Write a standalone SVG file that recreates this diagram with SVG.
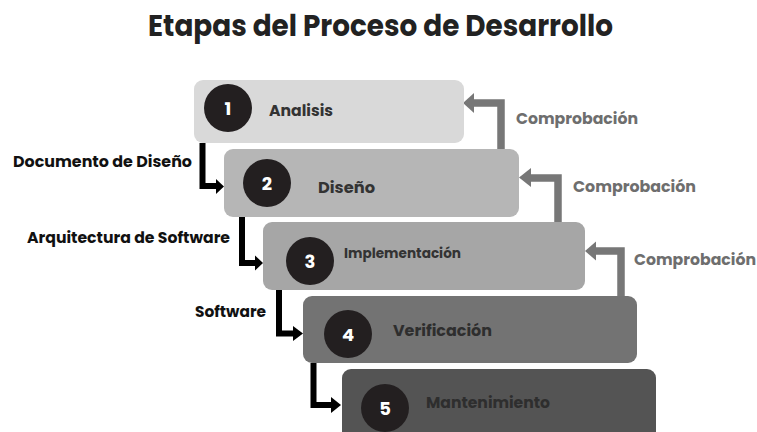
<svg xmlns="http://www.w3.org/2000/svg" width="757" height="432" viewBox="0 0 757 432">
<style>
text{font-family:"Poppins","Inter","Noto Sans","Liberation Sans",sans-serif;font-weight:700}
.title{font-size:29px;fill:#222}
.num{font-size:18px;fill:#fff;text-anchor:middle}
.lbl{font-size:15px;fill:#333}
.side{font-size:15px;fill:#111}
.chk{font-size:15.5px;fill:#6e6e6e}
.circ{fill:#231f20}
.blk{fill:none;stroke:#000;stroke-width:6}
.blkh{fill:#000}
.gry{fill:none;stroke:#777;stroke-width:7.5}
.gryh{fill:#777}
</style>
<rect width="757" height="432" fill="#fff"/>
<text class="title" x="148" y="36" textLength="465" lengthAdjust="spacingAndGlyphs">Etapas del Proceso de Desarrollo</text>
<g id="connectors">
<path class="blk" d="M202.5,143 V186 H217"/><polygon class="blkh" points="216,179 224,186.5 216,194"/>
<path class="blk" d="M242,217 V263 H256"/><polygon class="blkh" points="255,255.5 263,263 255,270.5"/>
<path class="blk" d="M279,290 V333.5 H294"/><polygon class="blkh" points="293,326 303,333.5 293,341"/>
<path class="blk" d="M313.5,363 V405 H332"/><polygon class="blkh" points="331,397 341,405 331,413"/>
<path class="gry" d="M501,149 V103 H474"/><polygon class="gryh" points="474,93 463,103 474,113"/>
<path class="gry" d="M558,222 V178 H531"/><polygon class="gryh" points="531,168 519,177.5 531,187"/>
<path class="gry" d="M621,296 V251 H596"/><polygon class="gryh" points="596,241.5 585,251 596,260.5"/>
<text class="side" x="13" y="167" textLength="179" lengthAdjust="spacingAndGlyphs">Documento de Diseño</text>
<text class="side" x="27" y="243" textLength="203" lengthAdjust="spacingAndGlyphs">Arquitectura de Software</text>
<text class="side" x="195" y="317" textLength="71" lengthAdjust="spacingAndGlyphs">Software</text>
<text class="chk" x="516" y="124" textLength="122" lengthAdjust="spacingAndGlyphs">Comprobación</text>
<text class="chk" x="573" y="192" textLength="123" lengthAdjust="spacingAndGlyphs">Comprobación</text>
<text class="chk" x="634" y="265" textLength="122" lengthAdjust="spacingAndGlyphs">Comprobación</text>
</g>
<g id="node1">
<rect x="194" y="80" width="270" height="63" rx="9" fill="#d9d9d9"/>
<circle class="circ" cx="228" cy="108" r="24"/>
<text class="num" x="228" y="114.5">1</text>
<text class="lbl" x="269" y="116" textLength="64" lengthAdjust="spacingAndGlyphs">Analisis</text>
</g>
<g id="node2">
<rect x="224" y="149" width="295" height="68" rx="9" fill="#b6b6b6"/>
<circle class="circ" cx="267" cy="183" r="24"/>
<text class="num" x="267" y="189.5">2</text>
<text class="lbl" x="318" y="193" textLength="57" lengthAdjust="spacingAndGlyphs">Diseño</text>
</g>
<g id="node3">
<rect x="263" y="222" width="322" height="68" rx="9" fill="#a6a6a6"/>
<circle class="circ" cx="310" cy="261" r="24"/>
<text class="num" x="310" y="267.5">3</text>
<text class="lbl" x="344" y="258" style="font-size:14px" textLength="117" lengthAdjust="spacingAndGlyphs">Implementación</text>
</g>
<g id="node4">
<rect x="303" y="296" width="334" height="67" rx="9" fill="#737373"/>
<circle class="circ" cx="348" cy="334" r="24"/>
<text class="num" x="348" y="340.5">4</text>
<text class="lbl" x="393" y="336" style="font-size:16px;fill:#2e2e2e" textLength="99" lengthAdjust="spacingAndGlyphs">Verificación</text>
</g>
<g id="node5">
<rect x="342" y="369" width="314" height="80" rx="9" fill="#545454"/>
<circle class="circ" cx="385" cy="408" r="24"/>
<text class="num" x="385" y="414.5">5</text>
<text class="lbl" x="426" y="408" style="fill:#2e2e2e" textLength="124" lengthAdjust="spacingAndGlyphs">Mantenimiento</text>
</g>
</svg>
